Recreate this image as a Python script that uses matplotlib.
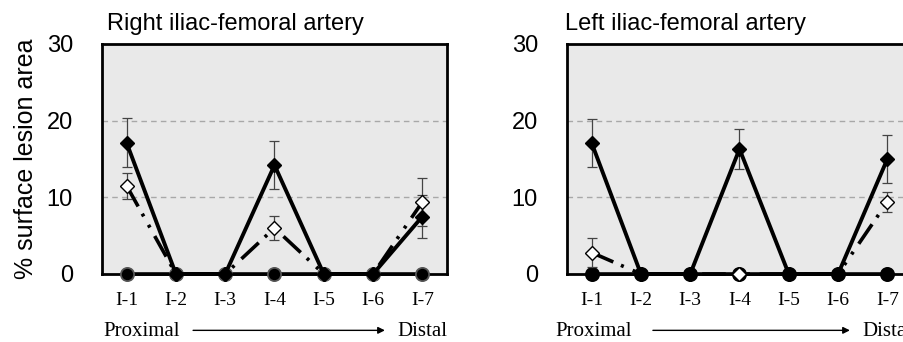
import matplotlib.pyplot as plt

plt.rcParams['lines.scale_dashes'] = False

segments = ['I-1', 'I-2', 'I-3', 'I-4', 'I-5', 'I-6', 'I-7']
x = list(range(1, 8))

# Right iliac-femoral artery
right_filled = [17.1, 0, 0, 14.2, 0, 0, 7.5]
right_filled_err = [3.2, 0, 0, 3.1, 0, 0, 2.8]
right_open = [11.5, 0, 0, 6.0, 0, 0, 9.4]
right_open_err = [1.7, 0, 0, 1.6, 0, 0, 3.1]
right_zero = [0, 0, 0, 0, 0, 0, 0]

# Left iliac-femoral artery
left_filled = [17.1, 0, 0, 16.3, 0, 0, 15.0]
left_filled_err = [3.1, 0, 0, 2.6, 0, 0, 3.1]
left_open = [2.8, 0, 0, 0, 0, 0, 9.4]
left_open_err = [1.9, 0, 0, 0, 0, 0, 1.25]
left_zero = [0, 0, 0, 0, 0, 0, 0]

W, H = 904, 342
fig = plt.figure(figsize=(W / 100, H / 100), dpi=100)


def draw_panel(ax, title, filled, filled_err, opened, opened_err, zero,
               circle_edge, title_x, prox_x, arrow_x0):
    ax.set_facecolor('#e9e9e9')
    ax.set_xlim(0.5, 7.5)
    ax.set_ylim(0, 30)
    ax.set_yticks([0, 10, 20, 30])
    ax.set_xticks(x)
    ax.set_xticklabels(segments, fontfamily='Liberation Serif', fontsize=14)
    ax.tick_params(axis='x', length=0, pad=13)
    ax.tick_params(axis='y', length=0, pad=21, labelsize=17)
    for lab in ax.get_yticklabels():
        lab.set_fontfamily('Liberation Sans')
    for s in ax.spines.values():
        s.set_linewidth(2)
    for yv in (10, 20):
        ax.axhline(yv, color='#a8a8a8', lw=1, dashes=(4, 3), zorder=1)

    # zero series
    ax.plot(x, zero, color='black', lw=2.6, marker='o', ms=9.5,
            mfc='black', mec=circle_edge, mew=1.3, zorder=3, clip_on=False)

    # error bars
    for vals, errs in ((opened, opened_err), (filled, filled_err)):
        xi = [xx for xx, e in zip(x, errs) if e > 0]
        yi = [v for v, e in zip(vals, errs) if e > 0]
        ei = [e for e in errs if e > 0]
        ax.errorbar(xi, yi, yerr=ei, fmt='none', ecolor='#444444',
                    elinewidth=0.9, capsize=3.5, capthick=0.9, zorder=4)

    # open diamond series (long dash - dot - dot)
    ax.plot(x, opened, color='black', lw=2.6,
            dashes=(17, 6, 2.2, 7, 2.2, 7), marker='D', ms=7.5,
            mfc='white', mec='black', mew=1, zorder=5, clip_on=False)
    # filled diamond series
    ax.plot(x, filled, color='black', lw=2.8, marker='D', ms=7.5,
            mfc='black', mec='black', zorder=6, clip_on=False)

    ax.text(title_x, 1.06, title, transform=ax.transAxes, ha='left',
            va='baseline', fontsize=17, fontfamily='Liberation Sans')

    ax.text(prox_x, -0.25, 'Proximal', transform=ax.transAxes, ha='left',
            va='center', fontsize=15, fontfamily='Liberation Serif')
    ax.annotate('', xy=(0.82, -0.245), xytext=(arrow_x0, -0.245),
                xycoords='axes fraction', textcoords='axes fraction',
                arrowprops=dict(arrowstyle='-|>', color='black', lw=1,
                                mutation_scale=10, shrinkA=0, shrinkB=0))
    ax.text(0.855, -0.25, 'Distal', transform=ax.transAxes, ha='left',
            va='center', fontsize=15, fontfamily='Liberation Serif')


ax1 = fig.add_axes([102 / W, (H - 274) / H, 345 / W, 230 / H])
draw_panel(ax1, 'Right iliac-femoral artery', right_filled, right_filled_err,
           right_open, right_open_err, right_zero, '#555555', 0.015, 0.003, 0.264)
ax1.set_ylabel('% surface lesion area', fontsize=18,
               fontfamily='Liberation Sans', labelpad=6)

ax2 = fig.add_axes([567 / W, (H - 274) / H, 345 / W, 230 / H])
draw_panel(ax2, 'Left iliac-femoral artery', left_filled, left_filled_err,
           left_open, left_open_err, left_zero, 'black', -0.006, -0.035, 0.249)

fig.savefig('out.png', dpi=100)
